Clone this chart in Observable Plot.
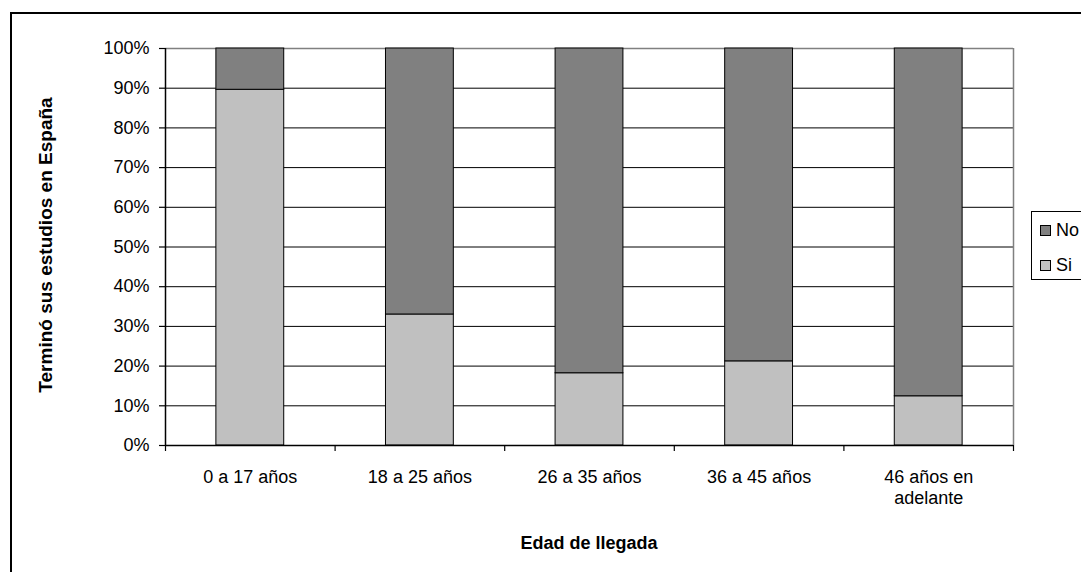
<!DOCTYPE html>
<html>
<head>
<meta charset="utf-8">
<script src="https://cdn.jsdelivr.net/npm/d3@7"></script>
<script src="https://cdn.jsdelivr.net/npm/@observablehq/plot@0.6"></script>
<style>
  html, body { margin: 0; padding: 0; background: #fff; }
  body { font-family: "Liberation Sans", Arial, sans-serif; color: #000; }
  #wrap { position: relative; width: 1081px; height: 572px; overflow: hidden; background: #fff; }
  #frame { position: absolute; left: 10px; top: 12px; width: 1200px; height: 700px;
           border-left: 2px solid #000; border-top: 2px solid #000; box-sizing: border-box; }
  #chart { position: absolute; left: 0; top: 0; }
  .ytitle { position: absolute; left: 46px; top: 245px; transform: translate(-50%, -50%) rotate(-90deg);
            white-space: nowrap; font-weight: bold; font-size: 19px; }
  .xtitle { position: absolute; left: 589px; top: 543px; transform: translate(-50%, -50%);
            white-space: nowrap; font-weight: bold; font-size: 18px; }
  #legend { position: absolute; left: 1031px; top: 211px; width: 120px; height: 69px;
            border: 1px solid #000; box-sizing: border-box; background: #fff; font-size: 18px; }
  .li { position: absolute; left: 8px; display: flex; align-items: center; white-space: nowrap; }
  .sw { width: 9px; height: 9px; border: 1px solid #000; margin-right: 5px; }
</style>
</head>
<body>
<div id="wrap">
  <div id="frame"></div>
</div>
<script>
// ---- data ----
const categories = ["0 a 17 años", "18 a 25 años", "26 a 35 años", "36 a 45 años", "46 años en\nadelante"];
const siValues = [89.6, 33.0, 18.2, 21.2, 12.4];
const noValues = [10.4, 67.0, 81.8, 78.8, 87.6];
const seriesNames = ["No", "Si"];
const seriesColors = ["#808080", "#C0C0C0"];
const yTicks = [0, 10, 20, 30, 40, 50, 60, 70, 80, 90, 100];
const xTitle = "Edad de llegada";
const yTitle = "Terminó sus estudios en España";

// table built from the arrays (Si at bottom, No stacked on top)
const rows = categories.flatMap((c, i) => [
  { cat: c, i, series: "Si", y1: 0, y2: siValues[i] },
  { cat: c, i, series: "No", y1: siValues[i], y2: siValues[i] + noValues[i] }
]);

const font = '"Liberation Sans", Arial, sans-serif';
const n = categories.length;

const chart = Plot.plot({
  width: 1081,
  height: 572,
  marginLeft: 165,
  marginRight: 68,
  marginTop: 48,
  marginBottom: 127,
  style: { fontFamily: font, fontSize: "18px", background: "transparent", color: "#000", overflow: "visible" },
  x: { domain: [0, n] },
  y: { domain: [0, 100] },
  color: { domain: seriesNames, range: seriesColors },
  marks: [
    Plot.gridY(yTicks.filter(t => t < 100), { stroke: "#000", strokeOpacity: 1, strokeWidth: 1 }),
    Plot.ruleY([100], { stroke: "#808080", strokeWidth: 1.5 }),
    Plot.ruleX([n], { stroke: "#808080", strokeWidth: 1.5 }),
    Plot.rectY(rows, {
      x1: d => d.i + 0.3, x2: d => d.i + 0.7,
      y1: "y1", y2: "y2",
      fill: "series", stroke: "#000", strokeWidth: 1
    }),
    Plot.axisY({ ticks: yTicks, tickFormat: d => d + "%", tickSize: 6, tickPadding: 10, label: null, strokeWidth: 1.2 }),
    Plot.ruleX([0], { stroke: "#000", strokeWidth: 1.5 }),
    Plot.ruleY([0], { stroke: "#000", strokeWidth: 1.5 }),
    Plot.axisX({ ticks: d3.range(n + 1), tickFormat: () => "", tickSize: 6, label: null, strokeWidth: 1.2 }),
    Plot.axisX({ ticks: categories.map((c, i) => i + 0.5), tickFormat: d => categories[Math.floor(d)],
                 tickSize: 0, tickPadding: 22, label: null, lineHeight: 1.2 })
  ]
});
chart.id = "chart";
const wrap = document.getElementById("wrap");
wrap.appendChild(chart);

const yt = document.createElement("div"); yt.className = "ytitle"; yt.textContent = yTitle; wrap.appendChild(yt);
const xt = document.createElement("div"); xt.className = "xtitle"; xt.textContent = xTitle; wrap.appendChild(xt);

const legend = document.createElement("div"); legend.id = "legend";
seriesNames.forEach((s, k) => {
  const li = document.createElement("div"); li.className = "li";
  li.style.top = (k === 0 ? 8 : 43) + "px";
  const sw = document.createElement("div"); sw.className = "sw"; sw.style.background = seriesColors[k];
  const tx = document.createElement("span"); tx.textContent = s;
  li.appendChild(sw); li.appendChild(tx); legend.appendChild(li);
});
wrap.appendChild(legend);
</script>
</body>
</html>
